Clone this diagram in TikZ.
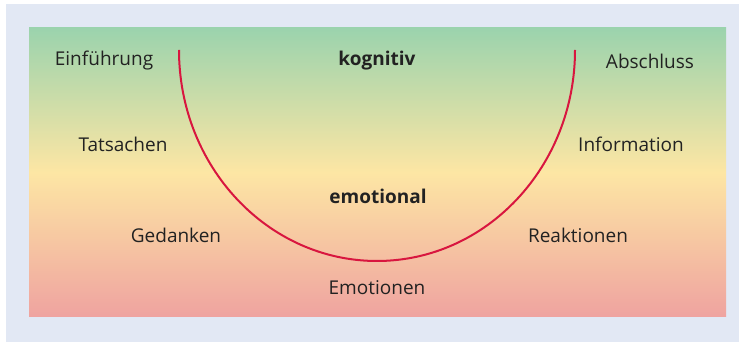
\documentclass[tikz,border=0pt]{standalone}
\usepackage{fontspec}
\setmainfont{Open Sans}
\usepackage{tikz}
\usetikzlibrary{positioning, calc}

\definecolor{framebg}{HTML}{E2E8F4}
\definecolor{topgreen}{HTML}{9BD3AD}
\definecolor{midyellow}{HTML}{FDE6A4}
\definecolor{botred}{HTML}{EFA3A0}
\definecolor{curvered}{HTML}{D8163F}
\definecolor{textgray}{HTML}{222222}

\tikzset{
  phase/.style={font=\fontsize{19}{22}\selectfont, text=textgray, inner sep=0pt},
  level/.style={phase, font=\fontsize{19}{22}\selectfont\bfseries}
}

\begin{document}
\begin{tikzpicture}[x=1pt, y=1pt]
% frame and background
\useasboundingbox (0,0) rectangle (739,342);
\fill[framebg] (6,0) rectangle (739,338);
\shade[top color=topgreen, bottom color=botred, middle color=midyellow]
    (29,25) rectangle (726,314);

% the arc
\coordinate (arcstart) at (179,292);
\draw[curvered, line width=2pt]
    (arcstart) arc[start angle=180, end angle=360, x radius=198, y radius=211];

% left side
\node[phase] (intro) at (104,281) {Einführung};
\node[phase] (facts) at (123,198) {Tatsachen};
\node[phase] (thoughts) at (176,107) {Gedanken};

% right side
\node[phase] (close) at (650,281) {Abschluss};
\node[phase] (info) at (631,198) {Information};
\node[phase] (react) at (578,107) {Reaktionen};

% middle
\node[level] (cog) at (377,281) {kognitiv};
\node[level] (emo) at (378,146) {emotional};
\node[phase] (feel) at (377,54) {Emotionen};
\end{tikzpicture}
\end{document}
